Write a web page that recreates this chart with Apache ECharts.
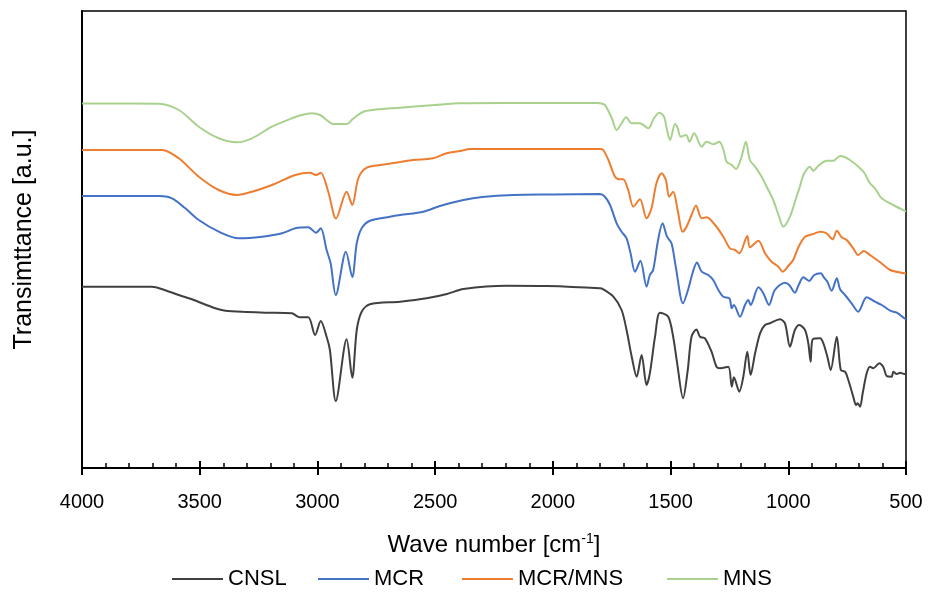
<!DOCTYPE html>
<html>
<head>
<meta charset="utf-8">
<script src="https://cdn.jsdelivr.net/npm/echarts@6/dist/echarts.min.js"></script>
<style>
html,body{margin:0;padding:0;background:#fff;}
#chart{width:928px;height:596px;}
</style>
</head>
<body>
<div id="chart"></div>
<script>
// Series names and colours
var seriesNames = ['CNSL', 'MCR', 'MCR/MNS', 'MNS'];
var seriesColors = ['#404040', '#4472C4', '#ED7D31', '#A9D18E'];

// x-axis tick values (cm-1)
var xTicks = [4000, 3500, 3000, 2500, 2000, 1500, 1000, 500];

// CNSL: wavenumber (cm-1) and transmittance (a.u.)
var cnslWn = [4000,3800,3703,3650,3589,3533,3434,3391,3300,3221,3108,3088,3074,3039,3010,2986,2961,2947,2922,2876,2852,2833,2812,2777,2649,2536,2450,2380,2196,2026,1800,1786,1743,1708,1687,1665,1644,1623,1602,1588,1566,1545,1510,1489,1472,1447,1427,1411,1390,1375,1354,1326,1305,1290,1255,1240,1231,1208,1191,1174,1160,1141,1120,1099,1078,1035,1014,993,972,953,929,915,905,896,865,851,834,820,794,777,759,745,724,712,705,695,684,667,653,639,613,596,582,561,554,539,525,507,500];
var cnslT = [181.3,181.3,181.3,178,173,168.7,159.7,157.3,156,155.3,154.7,152,150.7,150.7,133,147,131.3,118,67,128.7,90.3,138,156.3,163.7,166.3,169.7,174,179,182.3,182,179.7,178.7,171.3,158,138,111.3,91.3,113,83,94.7,131.3,155.3,151.3,131.3,104.7,69.7,98,131.3,138.5,131.3,129.7,116.3,101.3,99.7,101.3,81.3,90.7,76.3,91.3,116.3,93,114.7,134.7,143,144.7,148.7,144.7,121.3,138,143,138,124.7,106.3,128.7,129.7,124.7,111.3,98,131.3,98,96.3,88,71.3,63,64.7,61.3,74.7,94.7,101.3,99.7,104.7,100.7,92,91.3,96.3,94,95.3,94,94];

// MCR
var mcrWn = [4000,3800,3674,3618,3561,3504,3419,3334,3235,3150,3094,3039,3006,2986,2961,2944,2922,2879,2852,2833,2812,2777,2692,2649,2550,2480,2380,2300,2168,2000,1800,1779,1757,1729,1708,1687,1670,1651,1628,1602,1588,1574,1553,1534,1515,1496,1478,1447,1426,1405,1388,1368,1340,1319,1297,1276,1250,1240,1231,1205,1184,1170,1160,1127,1106,1082,1057,1014,996,972,956,936,911,890,862,848,834,816,794,780,759,731,703,667,632,603,567,539,507,500];
var mcrT = [272,272,272,269.7,259.7,248,236.3,229.7,231.3,234.7,239.7,240.7,235.3,239.7,218,204.7,173,216.3,191,224.7,239.7,247.3,251.3,253,256.3,262,268,271,273,273.5,274,271.3,263,244.7,236.3,229.7,214.7,196.3,207.3,181.3,193,198,228,244.7,231.3,224.7,201.3,164.7,178,196.3,205.5,196.3,193,188,178,171.3,169.7,159.7,163,151.3,163,168,163,180.7,174.7,163,178,185.3,183,175.3,183,190.7,187,193,194.7,190.3,186.3,177.3,189.7,178.7,173,164.7,156.3,170.7,166.3,163,157.3,155.3,149.7,149];

// MCR/MNS
var mcrMnsWn = [4000,3800,3660,3589,3504,3419,3342,3278,3193,3094,3032,3006,2986,2954,2921,2876,2852,2826,2791,2734,2649,2593,2509,2451,2394,2352,2100,1800,1786,1764,1736,1715,1701,1680,1658,1630,1602,1581,1560,1538,1520,1506,1489,1470,1449,1432,1411,1392,1368,1347,1311,1276,1248,1226,1208,1174,1163,1127,1099,1071,1042,1024,993,979,956,929,894,865,837,811,794,773,752,724,703,679,653,610,567,507,500];
var mcrMnsT = [318,318,318,309.7,291.3,278,273,276.3,283,293,295.3,293,295.3,276.3,249.5,276.3,263,290,300.3,303,306,308,309.7,314.7,317,319,319,319,318,308,291.3,288.7,288.7,278,261.3,268.7,249.7,259.7,284.7,294.7,288,271.3,276.3,258,236.3,241.3,253,262.5,249.7,250.7,243,231.3,219.7,218,214.7,232,220.7,227.3,214.7,206.3,201.3,196.3,204,208,221.3,231.3,234,236.3,234.7,228.7,237.3,230.7,228,219.7,213,217,213,205.7,198,194.7,194.5];

// MNS
var mnsWn = [4000,3800,3674,3589,3504,3419,3342,3278,3193,3108,3066,3024,2989,2955,2934,2876,2850,2805,2750,2649,2500,2394,2200,2000,1814,1800,1779,1750,1729,1710,1689,1665,1630,1595,1570,1548,1528,1515,1502,1481,1470,1457,1434,1420,1400,1368,1347,1319,1293,1275,1262,1240,1222,1200,1180,1163,1141,1115,1092,1064,1040,1021,993,964,950,936,908,894,873,837,809,780,738,681,653,632,603,554,507,500];
var mnsT = [364.5,364.5,364.3,358,341.3,329.7,325.7,329.7,341.3,349.7,353,354.7,353,347,344,344,349,356.3,358.5,360.3,363,364.7,365,365,365,364.7,363,350,338,344,350.7,344.7,344.7,339.7,350,355.3,351.3,338,328,344,340,331.3,333,326.3,334.7,321.3,326.3,323.7,326.3,318,306.3,303,299,310,326.3,308,301.3,292,281.3,268,252,241.3,251.3,272,282,293,301.3,297,302,307.3,307.3,312,308,296.3,284.7,279.7,269.7,263,257.3,256.5];

function zip(a, b) { var out = []; for (var i = 0; i < a.length; i++) out.push([a[i], b[i]]); return out; }
var seriesData = [zip(cnslWn, cnslT), zip(mcrWn, mcrT), zip(mcrMnsWn, mcrMnsT), zip(mnsWn, mnsT)];

var FONT = 'Liberation Sans';
var chart = echarts.init(document.getElementById('chart'), null, {renderer: 'canvas'});

var legendLefts = [172, 318, 462, 667];
var legends = seriesNames.map(function (n, i) {
  return {
    data: [n], left: legendLefts[i], top: 568, itemWidth: 51, itemHeight: 2, padding: 0,
    icon: 'rect',
    textStyle: {fontFamily: FONT, fontSize: 22, color: '#000'},
    selectedMode: false
  };
});

var option = {
  backgroundColor: '#fff',
  animation: false,
  legend: legends,
  grid: [
    {left: 82, right: 22, top: 11, bottom: 128, show: true, borderColor: '#000', borderWidth: 1.5, containLabel: false},
    {left: 82, right: 22, top: 11, bottom: 128, show: false, containLabel: false}
  ],
  xAxis: [
    {
      type: 'value', gridIndex: 0, position: 'bottom', min: 500, max: 4000, interval: 500, inverse: true,
      axisLine: {show: true, lineStyle: {color: '#000', width: 2}},
      axisTick: {show: true, inside: true, length: 7, lineStyle: {color: '#000', width: 2}},
      minorTick: {show: true, splitNumber: 5, length: 5, lineStyle: {color: '#000', width: 1.5}},
      axisLabel: {show: false},
      splitLine: {show: false}, minorSplitLine: {show: false}
    },
    {
      type: 'value', gridIndex: 1, position: 'bottom', min: 500, max: 4000, interval: 500, inverse: true,
      axisLine: {show: false},
      axisTick: {show: true, inside: false, length: 7, lineStyle: {color: '#000', width: 2}},
      axisLabel: {show: true, margin: 24, color: '#000', fontFamily: FONT, fontSize: 20,
        formatter: function (v) { return xTicks.indexOf(v) >= 0 ? String(v) : ''; }},
      splitLine: {show: false},
      name: 'Wave number [cm{sup|-1}]', nameLocation: 'middle', nameGap: 64,
      nameTextStyle: {color: '#000', fontFamily: FONT, fontSize: 24,
        rich: {sup: {fontFamily: FONT, fontSize: 14, color: '#000', verticalAlign: 'top', padding: [0, 0, 12, 0]}}}
    }
  ],
  yAxis: [
    {
      type: 'value', gridIndex: 0, min: 0, max: 457,
      axisLine: {show: true, lineStyle: {color: '#000', width: 2}},
      axisTick: {show: false}, axisLabel: {show: false}, splitLine: {show: false},
      name: 'Transimttance [a.u.]', nameLocation: 'middle', nameGap: 45, nameRotate: 90,
      nameTextStyle: {color: '#000', fontFamily: FONT, fontSize: 25}
    },
    {type: 'value', gridIndex: 1, min: 0, max: 457, show: false}
  ],
  series: seriesNames.map(function (n, i) {
    return {
      name: n, type: 'line', xAxisIndex: 0, yAxisIndex: 0, data: seriesData[i],
      symbol: 'none', smooth: 0.3, color: seriesColors[i],
      lineStyle: {color: seriesColors[i], width: 2}
    };
  })
};
chart.setOption(option);
</script>
</body>
</html>
